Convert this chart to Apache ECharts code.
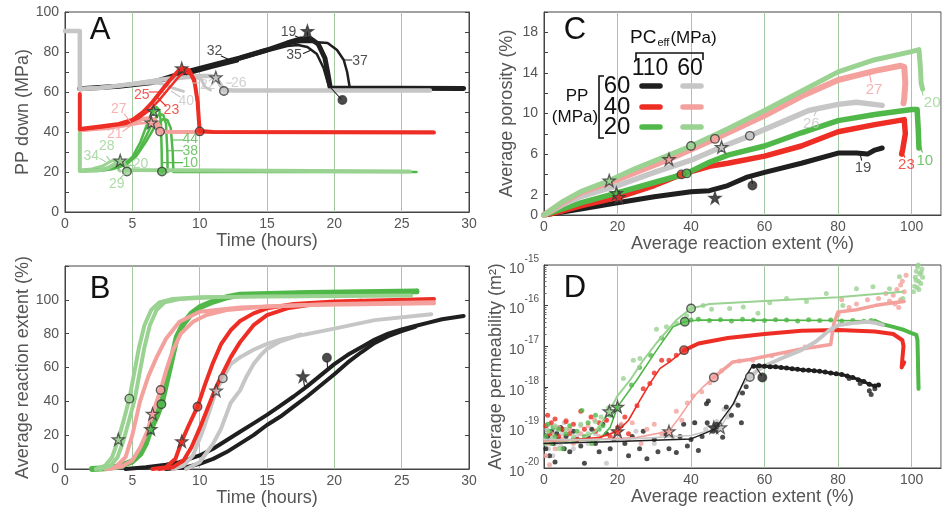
<!DOCTYPE html>
<html><head><meta charset="utf-8">
<script src="https://cdn.jsdelivr.net/npm/echarts/dist/echarts.min.js"></script>
<style>html,body{margin:0;padding:0;background:#fff}#c{width:943px;height:513px}</style>
</head><body><div id="c"></div>
<script>
// ===== colours =====
const COL = {k:'#1f1f1f', g:'#c6c6c6', r:'#ee2e24', p:'#f4a19d', gr:'#50b848', lg:'#9ad292'};
const GRIDC = '#a3c9a0';
const FONT = 'Liberation Sans, Arial, Helvetica, sans-serif';

// ===== Panel A : PP down (MPa) vs time (hours) =====
const A_gray_26 = [[0,90.5],[1.1,90.5],[1.1,61.5],[2.6,62],[5,64],[7.5,66.5],[10,68],[10.8,68],[11.2,67.3],[11.5,64],[11.8,61],[12.5,60.7],[27.1,60.7]];
const A_gray_22 = [[1.1,61.5],[3,62.5],[5,64.2],[7.5,66.8],[9.5,67.5],[10.1,66.5],[10.4,62.5],[10.8,61]];
const A_gray_40 = [[1.1,61.8],[4,63],[6.5,64.5],[7.1,64.3],[8,62],[8.8,60.3]];
const A_black_19 = [[1.1,61.6],[4,62.9],[6.5,64.8],[9,70],[11,73.5],[13,77],[15,81],[16.5,84.5],[17.5,86.5],[18.2,86.8],[18.8,84],[19.3,77],[19.5,70],[19.7,62],[29.6,61.8]];
const A_black_35 = [[13,76.5],[15,80.3],[16.5,83],[17.3,83.5],[18,82.5],[18.7,79],[19.2,72],[19.5,65],[19.65,62]];
const A_black_37 = [[13,77.5],[15,81.5],[16.5,84],[17.5,85],[18.5,85],[19.5,84.5],[20.2,81],[20.7,76],[20.95,70],[21.15,62]];
const A_black_32 = [[6.5,64.6],[9,69],[11,72.6],[12.8,75.6]];
const A_red_25 = [[1.1,59],[1.1,41.5],[2.6,42.7],[4,44],[5,46],[5.8,50],[6.5,55],[7.2,61],[7.8,66],[8.4,70.5],[8.8,72],[9.2,71],[9.6,66],[9.85,55],[9.95,45],[10,40.5],[11,40],[27.4,39.8]];
const A_red_23 = [[1.1,41],[3,42.5],[4.5,44],[5.5,47],[6.3,51],[7,56],[7.8,62.5],[8.5,68],[8.9,70],[9.3,69],[9.7,63],[9.9,50],[10,41]];
const A_pink_27 = [[1.1,41],[2.5,42],[4,43.5],[5,45],[5.8,46.5],[6.3,47],[6.7,46],[7.0,43],[7.1,40.3],[8,40],[27.3,40]];
const A_pink_21 = [[1.1,40.5],[3,41.5],[4.5,43],[5.5,44.3],[6.3,44.8],[6.7,43.5],[6.95,41],[7.05,40]];
const A_green_10 = [[1.1,20.5],[2.5,20.8],[3.5,21.5],[4.3,23.5],[5,27.5],[5.6,35],[6.1,44],[6.5,50.5],[6.8,52.5],[7.0,51],[7.12,45],[7.18,30],[7.2,20]];
const A_green_38 = [[1.1,20.5],[3,21],[4,22.5],[4.8,25.5],[5.5,31],[6.1,39],[6.6,46],[7.0,49],[7.3,48.5],[7.5,44],[7.6,30],[7.62,20]];
const A_green_44 = [[1.1,20.5],[3.5,21.5],[4.5,23.5],[5.3,28],[6,35],[6.7,43],[7.3,46.5],[7.6,46],[7.85,42],[8.0,30],[8.05,20],[26.1,20]];
const A_lgreen_28 = [[1.1,42],[1.1,20.5],[2.5,20.8],[3.2,22],[3.7,24],[4.1,25.7],[4.4,24],[4.55,21],[4.6,20.3],[25.6,20.2]];
const A_lgreen_34 = [[1.1,21],[2,21.5],[2.8,23],[3.3,25],[3.6,26],[3.8,25],[4.0,21],[4.1,20.5]];
const A_lgreen_29 = [[1.1,20.5],[3,21],[3.8,23],[4.3,24.5],[4.6,24],[4.8,21],[4.9,20.3]];
const A_stars = {lg:[4.1,25.7], p:[6.4,44.7], gr:[6.57,50.5], r:[8.67,71.8], g:[11.2,67.3], k:[18,90.5]};
const A_circles = {lg:[4.6,20.2], p:[7.06,40.2], gr:[7.2,20.2], r:[10,40.3], g:[11.8,60.5], k:[20.6,56]};
// [text, colour, textX, textY, leader x1, y1, x2, y2]
const A_notes = [
 ['32','k',11.1,80.6, 11.6,78, 12.4,75.5],
 ['19','k',16.6,89.7, 17.1,88, 17.6,86.5],
 ['35','k',17.0,78.3, 17.7,79.3, 18.3,81],
 ['37','k',21.9,75.2, 20.75,76, 21.3,76],
 ['26','g',12.9,64.3, 12.0,64.5, 12.4,64.5],
 ['22','g',10.6,63.5, 9.5,64.5, 10.0,64.5],
 ['40','g',9.0,55.5, 8.55,57.5, 7.9,60.5],
 ['25','r',5.7,58.5, 6.25,60, 7.3,60],
 ['23','r',7.9,51, 7.5,53, 6.9,57],
 ['27','p',4.0,51.3, 4.4,49, 4.87,45],
 ['21','p',3.7,39, 4.3,40.3, 4.95,43.5],
 ['44','gr',9.3,36.3, 7.95,36, 8.75,36],
 ['38','gr',9.3,30.2, 7.6,30.6, 8.75,30.6],
 ['10','gr',9.3,24.4, 7.2,24.7, 8.75,24.7],
 ['34','lg',1.95,28, 2.6,26.8, 3.0,25.2],
 ['28','lg',3.1,32.7, 3.1,27.8, 3.4,25.2],
 ['20','lg',5.6,23.8, 4.6,23.3, 5.1,23.3],
 ['29','lg',3.85,13.8, 4.1,16.8, 4.5,19.8]
];
const A_leaders = [['k',18,90,18,86.8],['k',19.75,62,20.5,56.5]];

// ===== Panel B : average reaction extent (%) vs time =====
const B_lgreen_1 = [[2.3,0],[3.0,2],[3.5,7],[3.96,17.5],[4.4,30],[4.78,41.6],[5.1,55],[5.5,72],[5.9,85],[6.4,94],[7,98.5],[8,100.5],[10,101.5],[15,102],[25.7,102.5]];
const B_lgreen_2 = [[2.6,0],[3.4,2],[3.9,7],[4.35,17],[4.8,30],[5.2,42],[5.5,55],[5.9,72],[6.3,85],[6.8,94],[7.4,98.5],[8.5,100.5],[11,101.5]];
const B_green = [[2,0],[3,0.5],[4,1.5],[5,4.5],[5.6,9],[6,15],[6.37,23.6],[6.8,31],[7.16,38.3],[7.5,50],[7.9,64],[8.3,78],[8.8,86],[9.4,92],[10,95.6],[11,99],[12,101.5],[13,103],[18,104],[26.1,105]];
const B_pink_1 = [[3,0],[3.8,1.5],[4.5,7],[5.0,20],[5.57,40],[6.2,55],[6.8,66],[7.5,77],[8.5,87],[10,93],[13,95.5],[18,97],[27.4,98]];
const B_pink_2 = [[3.2,0],[4.2,1.5],[5,5],[5.6,13],[6.1,22],[6.5,32.6],[7.1,46.7],[7.5,58],[8,70],[8.6,80],[9.5,87],[10.5,91],[12,94],[15,96],[20,97.5],[27.4,98.5]];
const B_red_1 = [[6.5,0],[7.5,1],[8.2,6],[8.67,16.4],[9.2,26],[9.84,36.8],[10.4,50],[11,63],[11.6,74],[12.3,82],[13,87.5],[14,92],[15,95],[17,97.5],[20,99],[27.4,100.5]];
const B_red_2 = [[7,0],[8,1],[8.8,5],[9.4,13],[10,24],[10.6,36],[11.2,48],[11.8,58],[12.3,66],[13,75],[14,85],[15,91],[16.5,95],[19,98],[22,99.5]];
const B_gray_1 = [[8,0],[8.8,2],[9.5,8],[10.2,22],[10.8,36],[11.23,46.4],[11.72,53.6],[12.3,62],[13,66],[14,70.5],[15,74],[16,76.5],[17.5,79],[20,83],[23,88],[27.2,91.5]];
const B_gray_2 = [[9,0],[10,4],[11,15],[11.6,24],[12.3,39],[13,46.5],[13.5,55],[14,62],[14.5,67],[15,71],[16,75.5],[17.5,79.5]];
const B_black_1 = [[4.5,0],[6,1],[7.5,2.5],[8.5,4],[10,8],[11,12],[12,17],[13,22],[14,27],[15,32],[16,37.5],[17,43],[18,49],[19,55.5],[20,62],[21,67.5],[22,72],[23,76.5],[24,80],[25,82.5],[26,84.5],[27,86.5],[28,88.5],[29.6,90.5]];
const B_black_2 = [[7.5,0],[9,1],[10,3],[11,6],[12,10],[13,15],[14,20],[15,26],[16,31],[17,37],[18,43],[19,49.5],[20,56],[21,63],[22,69],[23,74.5],[24,78.5],[25,81.5],[26,84]];
const B_stars = {lg:[3.96,17.5], gr:[6.37,23.6], p:[6.5,32.6], r:[8.67,16.4], g:[11.23,46.4], k:[17.67,54.8]};
const B_circles = {lg:[4.78,41.6], gr:[7.16,38.3], p:[7.1,46.7], r:[9.84,36.8], g:[11.72,53.6], k:[19.45,65.8]};
const B_leaders = [['k',17.72,52,17.8,48.3],['k',19.47,63.5,19.5,59]];

// ===== Panel C : average porosity (%) vs reaction extent (%) =====
const C_black = [[0,0],[5,0.3],[10,0.6],[20,1.2],[30,1.8],[40,2.3],[45,2.4],[50,2.9],[55,3.7],[60,4.2],[70,5.1],[80,6.1],[85,6.1],[88,6.0],[90,6.4],[92,6.6]];
const C_red = [[0,0],[5,0.4],[10,0.9],[20.4,1.77],[30,2.9],[37.4,4],[45,4.8],[50,5.1],[60,5.8],[70,6.8],[80,8.2],[90,8.9],[98,9.4],[98.3,8],[97.6,6.5],[97.3,6]];
const C_green = [[0,0],[5,0.6],[10,1.2],[19.7,2.15],[30,3.2],[38.8,4.1],[45,5.2],[50,5.9],[60,6.8],[70,8.1],[80,9.3],[90,9.9],[100,10.4],[101.5,10.4],[101.8,8.5],[102,6.6]];
const C_gray = [[0,0],[5,1],[10,1.8],[20,2.9],[30,4.2],[40,5.4],[48.3,6.7],[56,7.8],[65,9.2],[72,10.3],[80,10.9],[85,11.1],[92,10.8]];
const C_pink = [[0,0],[5,1.2],[10,2.2],[20,3.5],[34,5.5],[46.5,7.5],[60,9.8],[70,11.7],[80,13.3],[90,14.2],[97,14.7],[98,14.6],[98.3,13],[98,11.5],[97.8,11]];
const C_lgreen = [[0,0],[5,1.3],[10,2.3],[17.75,3.4],[25,4.6],[40,6.8],[50,8.5],[60,10.3],[70,12.2],[80,14.1],[90,15.3],[100,16.1],[102,16.3],[102.4,14.5],[102.6,13],[103,12.4]];
const C_stars = {lg:[17.75,3.4], gr:[19.7,2.15], r:[20.4,1.77], p:[34,5.5], g:[48.3,6.7], k:[46.5,1.7]};
const C_circles = {r:[37.4,4.0], gr:[38.8,4.1], lg:[40,6.8], p:[46.5,7.5], g:[56,7.8], k:[56.7,2.9]};
const C_notes = [
 ['27','p',89.8,12.3, 89,13.1, 88.6,13.8],
 ['20','lg',105.6,11, 103.1,11.8, 102.6,12.5],
 ['26','g',72.7,9.0, 73.5,9.8, 74.2,10.3],
 ['23','r',98.6,4.9, 98.1,5.7, 97.5,6.4],
 ['10','gr',103.6,5.3, 102.9,6.2, 102.2,7.0],
 ['19','k',86.8,4.6, 86.4,5.4, 86,6.0]
];
const C_leaders = [['k',56.7,3.1,56.5,3.6]];

// ===== Panel D : average permeability (m2) vs reaction extent (%) =====
const D_lgreen_fit = [[0,4.5e-20],[10,5e-20],[14,8e-20],[17.75,2.5e-19],[20,6e-19],[23.4,1.45e-18],[27,4.5e-18],[30.6,1.2e-17],[36,4.4e-17],[40,8.5e-17],[45,1.1e-16],[60,1.3e-16],[80,1.6e-16],[97.6,2.2e-16]];
const D_green_fit = [[0,4.5e-20],[15,5e-20],[18,1e-19],[20,3.2e-19],[25.2,1.45e-18],[30.6,7.9e-18],[35.1,3e-17],[38.3,4e-17],[42,4.4e-17],[60,4.4e-17],[80,4.3e-17],[90,4.2e-17]];
const D_red_fit = [[0,4.5e-20],[15,5.6e-20],[20,8e-20],[23,1.5e-19],[26,4.5e-19],[28.8,1.2e-18],[31.5,2.8e-18],[34.2,4.1e-18],[38.1,7.9e-18],[42,1.17e-17]];
const D_pink_fit = [[0,4.5e-20],[25,5.6e-20],[34,8e-20],[36.5,1.6e-19],[38.8,3.2e-19],[41,6e-19],[43.3,1e-18],[46.2,1.7e-18]];
const D_gray_fit = [[0,5e-20],[20,5e-20],[40,6.3e-20],[48,1e-19],[50,2e-19],[52,5e-19],[54,1.1e-18],[56,1.74e-18]];
const D_black_fit = [[0,4e-20],[20,4.5e-20],[40,5.2e-20],[46.5,9.1e-20],[51.5,3.8e-19],[55.1,1.9e-18],[56.5,3.1e-18]];
const D_red_trace = [[38.1,7.9e-18],[42,1.17e-17],[50,1.6e-17],[60,2e-17],[70,2.4e-17],[80,2.5e-17],[90,2.3e-17],[95,2e-17],[97.5,1.4e-17],[97.8,1e-17],[97.5,5e-18],[97.3,3e-18],[97.8,2.8e-18],[98,4e-18]];
const D_green_trace = [[90,4.2e-17],[92,3.5e-17],[95,3e-17],[98,2.5e-17],[100,2.1e-17],[101.3,1.9e-17],[101.6,1.4e-17],[101.7,6e-18],[101.8,2e-18],[101.9,8.9e-19]];
const D_gray_trace = [[56,1.74e-18],[58,2.5e-18],[60.4,3.4e-18],[65,5.2e-18],[70,8e-18],[74,1.3e-17],[77.7,2.5e-17],[80,3.3e-17],[84,3.7e-17],[87.8,4e-17],[90,3.8e-17],[92.2,3.3e-17]];
const D_pink_trace = [[46.2,1.7e-18],[51.4,4.1e-18],[56,4.7e-18],[60,5.6e-18],[65,6.9e-18],[70,8.5e-18],[75,1e-17],[78,1.1e-17],[78.8,3.5e-17],[80,7e-17],[85,7.9e-17],[90,1e-16],[95,1.17e-16],[98,1.26e-16]];
const D_black_arc = [[57,3.2e-18],[58.5,3.3e-18],[60,3.2e-18],[61.5,3.1e-18],[63,3.1e-18],[64.5,3.0e-18],[66,2.9e-18],[67.5,2.8e-18],[69,2.7e-18],[70.5,2.6e-18],[72,2.55e-18],[73.5,2.5e-18],[75,2.4e-18],[76.5,2.3e-18],[78,2.2e-18],[79.5,2.1e-18],[81,2e-18],[82.5,1.85e-18],[84,1.7e-18],[85.5,1.5e-18],[87,1.35e-18],[88.5,1.15e-18],[90,1.05e-18],[91,1.1e-18]];
const D_black_dots = [[0.5,3e-20],[1,6e-20],[1.5,2e-20],[2,8e-20],[2.5,4e-20],[3,1.4e-20],[3.5,7e-20],[4,5e-20],[4.5,1e-19],[5,9e-20],[5.5,3e-20],[6,6e-20],[7,2.5e-20],[8,8e-20],[9,5e-20],[10,3.5e-20],[11,1.3e-20],[12,6e-20],[13,9e-20],[14,4e-20],[15,2.5e-20],[16,1.2e-19],[17,7e-20],[18,3e-20],[19,5e-20],[21,1.1e-19],[22,4e-20],[23,2e-20],[24,6e-20],[26,3e-20],[27,8e-20],[28,1.7e-20],[30,5e-20],[31,2.5e-20],[33,7e-20],[34,3e-20],[36,2.4e-20],[37,6e-20],[38,1.2e-19],[39,3.5e-20],[40,5e-20],[41,1.3e-19],[42,2.7e-20],[43,6e-20],[44.2,3.8e-19],[44.4,1.3e-19],[44.7,4.5e-19],[46,8e-20],[47,1.2e-19],[48.6,5.7e-20],[49.6,3.2e-19],[51,2e-19],[52.8,3.5e-19],[53.7,1.3e-19],[54,7e-19],[55,1e-18],[88.5,8e-19],[89,6.5e-19],[90,9e-19],[86,1.2e-18],[83,1.6e-18]];
const D_gray_dots = [[0.3,5e-20],[0.8,9e-20],[1.2,3e-20],[1.6,1.2e-19],[2,6e-20],[2.4,2e-20],[2.8,8e-20],[3.2,4e-20],[3.6,1e-19],[4,5.5e-20],[4.5,3.5e-20],[5,7e-20],[5.5,1.3e-19],[6,4.5e-20],[7,9e-20],[8,3e-20],[9,6e-20],[10,1.1e-19],[12,4e-20],[14,7e-20],[17,1.3e-20],[20,5e-20],[25,8e-20],[30,4e-20],[35,6e-20],[41,1.3e-19],[44,9e-20],[47,1.4e-19],[49,2.8e-19],[50,1.8e-19],[52,4e-19],[53,7e-19]];
const D_red_dots = [[0.5,1.1e-19],[1,2e-19],[1.5,7e-20],[2,1.3e-19],[3,1.6e-19],[4,6e-20],[5,9e-20],[6,1.4e-19],[7,7e-20],[8,1.2e-19],[9,5e-20],[10,2.5e-19],[11,9e-20],[12.8,1.8e-19],[14,8e-20],[15,1.3e-19],[17,1.5e-19],[18,6e-20],[20,1e-19],[22,1.8e-19],[23,7e-20],[25.3,3.4e-19],[27,9e-19],[28.8,1.2e-18],[30,2.2e-18],[32,4.5e-18],[34,4.5e-18],[36,6e-18]];
const D_pink_dots = [[0.5,2e-20],[1,4e-20],[1.5,1.2e-20],[2,7e-20],[3,3e-20],[4,1e-19],[5,5e-20],[6,1.5e-19],[7,9e-20],[8,4e-20],[10,7e-20],[12,1.1e-19],[13.8,1.5e-19],[15,6e-20],[16.9,1.5e-19],[19,8e-20],[21,1.2e-19],[23,5e-20],[24,1.3e-19],[26.4,4e-20],[28,9e-20],[30,1.2e-19],[32,7e-20],[36,2.5e-19],[37.5,1.5e-19],[39,4e-19],[40.5,6e-19],[42.9,7.5e-19],[45.1,1.26e-18],[48.3,2.5e-18],[53.2,4.3e-18],[56.8,4.5e-18],[62,5.8e-18],[66,6.5e-18],[71,9.5e-18],[80,6e-17],[81,1.4e-16],[83,9e-17],[85,1.1e-16],[88,1.4e-16],[91,1.5e-16],[93,2e-16],[94,1.3e-16],[95,1.8e-16],[95.5,1.1e-16],[96,2.5e-16],[96.5,9e-17],[97,3.2e-16],[97.5,4e-16],[98,2.2e-16],[98.5,5.6e-16],[97,1.4e-16]];
const D_green_dots = [[0.5,6e-20],[1,1.2e-19],[1.5,8e-20],[2,4e-20],[2.5,1e-19],[3,6e-20],[4,9e-20],[5,3e-20],[6,7e-20],[7,1.1e-19],[8,5e-20],[9,8e-20],[10.3,2.6e-19],[11,6e-20],[12,1.3e-19],[13,4e-20],[14,2e-19],[15,9e-20],[16,1.1e-19],[18,2e-19],[23.8,1.1e-18],[26,3e-18],[29,6e-18],[32,1.6e-17],[40,4.4e-17],[42,4.6e-17],[45,4.3e-17],[48,4.5e-17],[51,4.2e-17],[54,4.6e-17],[57,4.4e-17],[60,4.3e-17],[63,4.5e-17],[66,4.4e-17],[69,4.2e-17],[72,4.5e-17],[75,4.3e-17],[78,4.4e-17],[81,4.2e-17],[84,4.3e-17],[87,4.1e-17],[89,4.3e-17]];
const D_lgreen_dots = [[0.5,4e-20],[1,8e-20],[2,5e-20],[3,1.1e-19],[4,3e-20],[6,9e-20],[8,6e-20],[10,1.2e-19],[12,7e-20],[14,1.4e-19],[15.5,1.8e-19],[17.5,3e-19],[21.6,1.6e-18],[24.3,4.5e-18],[26.1,5e-18],[30.6,2.6e-17],[33.3,3e-17],[36.1,3.7e-17],[38.8,5.6e-17],[43.3,1e-16],[45.6,8.1e-17],[50.5,8.5e-17],[54.2,9.3e-17],[58.2,6.5e-17],[61.4,1.17e-16],[66,1.5e-16],[71.4,1.26e-16],[76.8,2e-16],[81.3,1e-16],[85,2.6e-16],[89.5,2.9e-16],[94,2.6e-16],[96.7,5.1e-16],[97.6,1.5e-16],[100.8,3e-16],[101,5e-16],[101.3,7e-16],[101.6,9e-16],[101.9,4e-16],[102.2,6e-16],[102.5,3.5e-16],[102.8,8e-16],[103,5e-16],[101.5,2.8e-16],[102,2.5e-16],[101.2,4.2e-16],[102.6,6.5e-16],[101.8,1e-15],[100.5,2.2e-16]];
const D_stars = {lg:[17.75,2.5e-19], gr:[20,3.2e-19], r:[20,8e-20], p:[34,8e-20], g:[48,1e-19], k:[46.2,1e-19]};
const D_circles = {lg:[40,8.5e-17], gr:[38.3,4e-17], r:[38.1,8e-18], p:[46.2,1.7e-18], g:[56,1.74e-18], k:[59.4,1.7e-18]};
const D_leaders = [['k',57.5,3.2e-18,59.2,1.9e-18]];

// ===== tick label lists =====
const A_yLabels = [0,20,40,60,80,100];
const B_yLabels = [0,20,40,60,80,100];
const C_yLabels = [0,2,6,10,14,18];
const X_pctLabels = [0,20,40,60,80,100];

// ===== helpers =====
const STAR = 'path://M50,2 L61.8,36.2 L97.6,36.2 L68.6,57.6 L79.4,92 L50,71 L20.6,92 L31.4,57.6 L2.4,36.2 L38.2,36.2 Z';
const series = [];
function L(gi, data, c, w, z, extra) {
  series.push(Object.assign({type:'line', xAxisIndex:gi, yAxisIndex:gi, data:data, showSymbol:false, symbol:'none',
    lineStyle:{color:COL[c]||c, width:w, cap:'round', join:'round'}, z:z||2, silent:true, animation:false}, extra||{}));
}
function Dots(gi, data, c, size, z) {
  series.push({type:'scatter', xAxisIndex:gi, yAxisIndex:gi, data:data, symbol:'circle', symbolSize:size||5,
    itemStyle:{color:COL[c]}, z:z||3, silent:true, animation:false});
}
function Marks(gi, stars, circles) {
  Object.keys(circles).forEach(k => series.push({type:'scatter', xAxisIndex:gi, yAxisIndex:gi, data:[circles[k]], symbol:'circle', symbolSize:8.5,
    itemStyle:{color:COL[k], borderColor:'#3a3a3a', borderWidth:1.4}, z:10, silent:true, animation:false}));
  Object.keys(stars).forEach(k => series.push({type:'scatter', xAxisIndex:gi, yAxisIndex:gi, data:[stars[k]], symbol:STAR, symbolSize:12,
    itemStyle:{color:COL[k], borderColor:'#3a3a3a', borderWidth:1.3}, z:11, silent:true, animation:false}));
}
function Notes(gi, notes, fs) {
  notes.forEach(n => {
    L(gi, [[n[4],n[5]],[n[6],n[7]]], n[1], 1.1, 12);
    series.push({type:'scatter', xAxisIndex:gi, yAxisIndex:gi, symbol:'circle', symbolSize:1, itemStyle:{color:'rgba(0,0,0,0)'},
      data:[{value:[n[2],n[3]], label:{show:true, position:'inside', formatter:n[0], color:COL[n[1]], fontSize:fs, fontFamily:FONT}}],
      z:13, silent:true, animation:false});
  });
}
function Leaders(gi, arr) { arr.forEach(a => L(gi, [[a[1],a[2]],[a[3],a[4]]], a[0], 1.1, 12)); }

// ----- Panel A series (black under gray, as in the reference) -----
L(0, A_lgreen_34, 'lg', 3, 2); L(0, A_lgreen_29, 'lg', 3, 2);
L(0, A_green_44, 'gr', 2.5, 3); L(0, A_green_38, 'gr', 2.5, 3); L(0, A_green_10, 'gr', 2.5, 3);
L(0, A_lgreen_28, 'lg', 4, 4);
L(0, A_black_32, 'k', 3.5, 4); L(0, A_black_35, 'k', 2.5, 4); L(0, A_black_37, 'k', 2.5, 4); L(0, A_black_19, 'k', 5, 4);
L(0, A_gray_40, 'g', 3, 5); L(0, A_gray_22, 'g', 3, 5); L(0, A_gray_26, 'g', 4.5, 5);
L(0, A_pink_21, 'p', 2.5, 6); L(0, A_pink_27, 'p', 4, 6);
L(0, A_red_23, 'r', 2.5, 7); L(0, A_red_25, 'r', 4, 7);
Marks(0, A_stars, A_circles); Notes(0, A_notes, 14); Leaders(0, A_leaders);

// ----- Panel B series -----
L(1, B_black_2, 'k', 4, 2); L(1, B_black_1, 'k', 4, 2);
L(1, B_gray_2, 'g', 4, 3); L(1, B_gray_1, 'g', 4, 3);
L(1, B_red_2, 'r', 4, 4); L(1, B_red_1, 'r', 4, 4);
L(1, B_green, 'gr', 6, 5);
L(1, B_pink_1, 'p', 4, 6); L(1, B_pink_2, 'p', 4, 6);
L(1, B_lgreen_2, 'lg', 4, 7); L(1, B_lgreen_1, 'lg', 4, 7);
Marks(1, B_stars, B_circles); Leaders(1, B_leaders);

// ----- Panel C series -----
L(2, C_black, 'k', 5, 2); L(2, C_red, 'r', 5.5, 3); L(2, C_green, 'gr', 5.5, 4);
L(2, C_gray, 'g', 5.5, 5); L(2, C_pink, 'p', 6, 6); L(2, C_lgreen, 'lg', 5, 7);
Marks(2, C_stars, C_circles); Notes(2, C_notes, 15); Leaders(2, C_leaders);

// ----- Panel D series -----
Dots(3, D_gray_dots, 'g'); Dots(3, D_black_dots, 'k');
Dots(3, D_pink_dots, 'p'); Dots(3, D_red_dots, 'r');
Dots(3, D_green_dots, 'gr'); Dots(3, D_lgreen_dots, 'lg');
L(3, D_lgreen_fit, 'lg', 2, 5); L(3, D_green_fit, 'gr', 1.6, 5); L(3, D_red_fit, 'r', 1.6, 5);
L(3, D_pink_fit, 'p', 1.6, 5); L(3, D_gray_fit, 'g', 1.6, 5); L(3, D_black_fit, 'k', 1.4, 6);
L(3, D_red_trace, 'r', 4, 6); L(3, D_green_trace, 'gr', 4, 6);
L(3, D_pink_trace, 'p', 3.5, 6); L(3, D_gray_trace, 'g', 4, 7);
L(3, D_black_arc, 'k', 3, 7, {showSymbol:true, symbol:'circle', symbolSize:5, itemStyle:{color:COL.k}});
Marks(3, D_stars, D_circles); Leaders(3, D_leaders);

// ===== axes =====
const labelStyle = {color:'#555', fontSize:14, fontFamily:FONT};
const nameStyle = {color:'#555', fontSize:18, fontFamily:FONT};
function xAx(gi, max, interval, name, labels) {
  return {type:'value', gridIndex:gi, min:0, max:max, interval:interval, name:name, nameLocation:'middle', nameGap:17,
    nameTextStyle:nameStyle,
    axisLine:{show:true, lineStyle:{color:'#444', width:1}}, axisTick:{show:false},
    axisLabel:Object.assign({margin:5, showMaxLabel:labels?false:true, formatter: v => (labels && labels.indexOf(v) < 0) ? '' : String(v)}, labelStyle),
    splitLine:{show:true, lineStyle:{color:GRIDC, width:1}}};
}
function yAx(gi, min, max, interval, name, gap, labels) {
  return {type:'value', gridIndex:gi, min:min, max:max, interval:interval, name:name, nameLocation:'middle', nameGap:gap,
    nameTextStyle:nameStyle,
    axisLine:{show:true, lineStyle:{color:'#444', width:1}}, axisTick:{show:true, inside:true, length:4, lineStyle:{color:'#444'}},
    axisLabel:Object.assign({margin:6, formatter: v => labels.indexOf(v) < 0 ? '' : String(v)}, labelStyle),
    splitLine:{show:false}};
}
function yRight(gi, min, max, interval) {
  return {type:'value', gridIndex:gi, position:'right', min:min, max:max, interval:interval,
    axisLine:{show:true, lineStyle:{color:'#444'}}, axisTick:{show:true, inside:true, length:4, lineStyle:{color:'#444'}},
    axisLabel:{show:false}, splitLine:{show:false}};
}
const xAxis = [
  xAx(0, 30, 5, 'Time (hours)'),
  xAx(1, 30, 5, 'Time (hours)'),
  xAx(2, 108, 20, 'Average reaction extent (%)', X_pctLabels),
  xAx(3, 108, 20, 'Average reaction extent (%)', X_pctLabels)
];
const yAxis = [
  yAx(0, 0, 100, 10, 'PP down (MPa)', 33, A_yLabels),
  yAx(1, 0, 120, 20, 'Average reaction extent (%)', 33, B_yLabels),
  yAx(2, 0, 20, 2, 'Average porosity (%)', 28, C_yLabels),
  {type:'log', gridIndex:3, logBase:10, min:1e-20, max:1e-15, name:'Average permeability (m²)', nameLocation:'middle', nameGap:35,
    nameTextStyle:nameStyle,
    axisLine:{show:true, lineStyle:{color:'#444'}}, axisTick:{show:true, inside:true, length:4, lineStyle:{color:'#444'}},
    minorTick:{show:true, splitNumber:9, length:2.5, lineStyle:{color:'#666'}},
    axisLabel:{margin:5, formatter: v => '{b|10}{s|' + Math.round(Math.log10(v)) + '}',
      rich:{b:{fontSize:14, color:'#555', fontFamily:FONT, lineHeight:22, verticalAlign:'bottom'},
            s:{fontSize:10, color:'#555', fontFamily:FONT, lineHeight:22, verticalAlign:'top'}}},
    splitLine:{show:false}},
  yRight(0, 0, 100, 10),
  yRight(1, 0, 120, 20)
];

const grids = [
  {left:65, top:12, width:404, height:200},
  {left:65, top:266, width:404, height:203},
  {left:544, top:12, width:397, height:203},
  {left:544, top:265, width:397, height:203}
].map(g => Object.assign(g, {show:true, borderColor:'#444', borderWidth:1, backgroundColor:'transparent', containLabel:false, outerBoundsMode:'none'}));

// ===== legend & panel letters (graphic) =====
const letters = [['A',100,30],['B',100,289],['C',575,30],['D',575,288]];
const graphic = letters.map(l => ({type:'text', x:l[1], y:l[2], z:50, style:{text:l[0], fontSize:31, fontFamily:FONT, fill:'#111', align:'center', verticalAlign:'middle'}}));
const legendRows = [['60','k','g',86],['40','r','p',107],['20','gr','lg',127]];
graphic.push({type:'text', x:630, y:38, z:50, style:{text:'{a|PC}{s|eff}{b|(MPa)}', fill:'#111', verticalAlign:'middle',
  rich:{a:{fontSize:19, fontFamily:FONT, fill:'#111'}, s:{fontSize:11, fontFamily:FONT, fill:'#111', padding:[10,1,0,1]}, b:{fontSize:17, fontFamily:FONT, fill:'#111'}}}});
graphic.push({type:'polyline', z:50, shape:{points:[[636,60],[636,53],[703,53],[703,60]]}, style:{stroke:'#111', lineWidth:1.6, fill:null}});
graphic.push({type:'text', x:650, y:69, z:50, style:{text:'110', fontSize:23, fontFamily:FONT, fill:'#111', align:'center', verticalAlign:'middle'}});
graphic.push({type:'text', x:690, y:69, z:50, style:{text:'60', fontSize:23, fontFamily:FONT, fill:'#111', align:'center', verticalAlign:'middle'}});
graphic.push({type:'polyline', z:50, shape:{points:[[604,76],[599,76],[599,138],[604,138]]}, style:{stroke:'#111', lineWidth:1.6, fill:null}});
graphic.push({type:'text', x:577, y:96, z:50, style:{text:'PP', fontSize:17, fontFamily:FONT, fill:'#111', align:'center', verticalAlign:'middle'}});
graphic.push({type:'text', x:575, y:117, z:50, style:{text:'(MPa)', fontSize:17, fontFamily:FONT, fill:'#111', align:'center', verticalAlign:'middle'}});
legendRows.forEach(r => {
  graphic.push({type:'text', x:617, y:r[3], z:50, style:{text:r[0], fontSize:24, fontFamily:FONT, fill:'#111', align:'center', verticalAlign:'middle'}});
  graphic.push({type:'line', z:50, shape:{x1:642, y1:r[3], x2:660, y2:r[3]}, style:{stroke:COL[r[1]], lineWidth:5.5, lineCap:'round'}});
  graphic.push({type:'line', z:50, shape:{x1:683, y1:r[3], x2:701, y2:r[3]}, style:{stroke:COL[r[2]], lineWidth:5.5, lineCap:'round'}});
});

const chart = echarts.init(document.getElementById('c'), null, {renderer:'canvas'});
chart.setOption({animation:false, backgroundColor:'#fff', textStyle:{fontFamily:FONT},
  grid:grids, xAxis:xAxis, yAxis:yAxis, series:series, graphic:graphic});
</script>
</body></html>
